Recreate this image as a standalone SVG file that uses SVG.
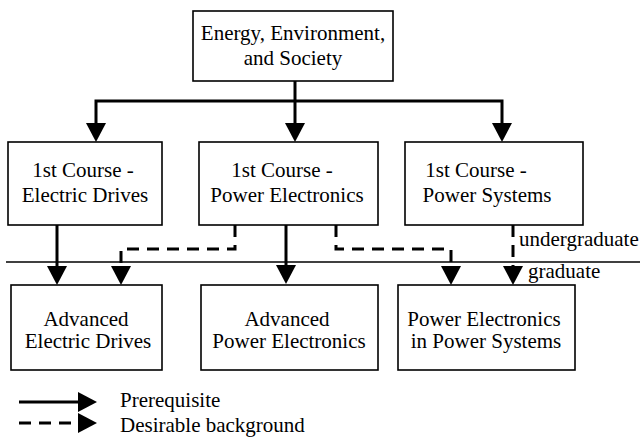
<svg xmlns="http://www.w3.org/2000/svg" width="640" height="437" viewBox="0 0 640 437">
  <defs>
    <style>
      .box { fill: #fff; stroke: #000; stroke-width: 1.6; }
      .lbl { font-family: 'Liberation Serif', 'DejaVu Serif', 'Noto Serif', serif; font-size: 21px; fill: #000; text-anchor: middle; }
      .note { font-family: 'Liberation Serif', 'DejaVu Serif', 'Noto Serif', serif; font-size: 21px; fill: #000; }
      .req { fill: none; stroke: #000; stroke-width: 3; marker-end: url(#head); }
      .opt { fill: none; stroke: #000; stroke-width: 3; stroke-dasharray: 12 8; marker-end: url(#head); }
      .rule { fill: none; stroke: #000; stroke-width: 1.5; }
    </style>
    <marker id="head" markerUnits="userSpaceOnUse" markerWidth="20" markerHeight="20" refX="0" refY="10" orient="auto" overflow="visible">
      <path d="M0,0 L19,10 L0,20 z" fill="#000" stroke="none"/>
    </marker>
  </defs>

  <!-- undergraduate / graduate divider -->
  <path class="rule" d="M6,262 H640"/>
  <text class="note" x="519" y="246">undergraduate</text>
  <text class="note" x="528" y="278">graduate</text>

  <g id="connectors">
    <path class="req" d="M295,81 V123"/>
    <path class="req" d="M295,101 H96 V123"/>
    <path class="req" d="M295,101 H502 V123"/>
    <path class="req" d="M57,225 V266"/>
    <path class="req" d="M286,225 V265"/>
    <path class="opt" d="M235,225 V249 H121 V266"/>
    <path class="opt" d="M336,225 V249 H451 V266"/>
    <path class="opt" d="M513,225 V266"/>
  </g>

  <g id="energy-environment-society">
    <rect class="box" x="193" y="11" width="200" height="70"/>
    <text class="lbl" x="293" y="40">Energy, Environment,</text>
    <text class="lbl" x="293" y="65">and Society</text>
  </g>

  <g id="first-electric-drives">
    <rect class="box" x="8" y="142" width="154" height="83"/>
    <text class="lbl" x="83" y="177">1st Course -</text>
    <text class="lbl" x="85" y="202">Electric Drives</text>
  </g>

  <g id="first-power-electronics">
    <rect class="box" x="199" y="142" width="179" height="83"/>
    <text class="lbl" x="282" y="177">1st Course -</text>
    <text class="lbl" x="287" y="202">Power Electronics</text>
  </g>

  <g id="first-power-systems">
    <rect class="box" x="405" y="142" width="178" height="83"/>
    <text class="lbl" x="476" y="177">1st Course -</text>
    <text class="lbl" x="487" y="202">Power Systems</text>
  </g>

  <g id="advanced-electric-drives">
    <rect class="box" x="11" y="285" width="151" height="85"/>
    <text class="lbl" x="86" y="326">Advanced</text>
    <text class="lbl" x="88" y="348">Electric Drives</text>
  </g>

  <g id="advanced-power-electronics">
    <rect class="box" x="201" y="285" width="177" height="85"/>
    <text class="lbl" x="287" y="326">Advanced</text>
    <text class="lbl" x="289" y="348">Power Electronics</text>
  </g>

  <g id="pe-in-power-systems">
    <rect class="box" x="398" y="285" width="177" height="85"/>
    <text class="lbl" x="484" y="326">Power Electronics</text>
    <text class="lbl" x="486" y="348">in Power Systems</text>
  </g>

  <g id="legend">
    <path class="req" d="M19,402 H78"/>
    <path class="opt" d="M19,423 H78"/>
    <text class="note" x="120" y="407">Prerequisite</text>
    <text class="note" x="120" y="432">Desirable background</text>
  </g>
</svg>
